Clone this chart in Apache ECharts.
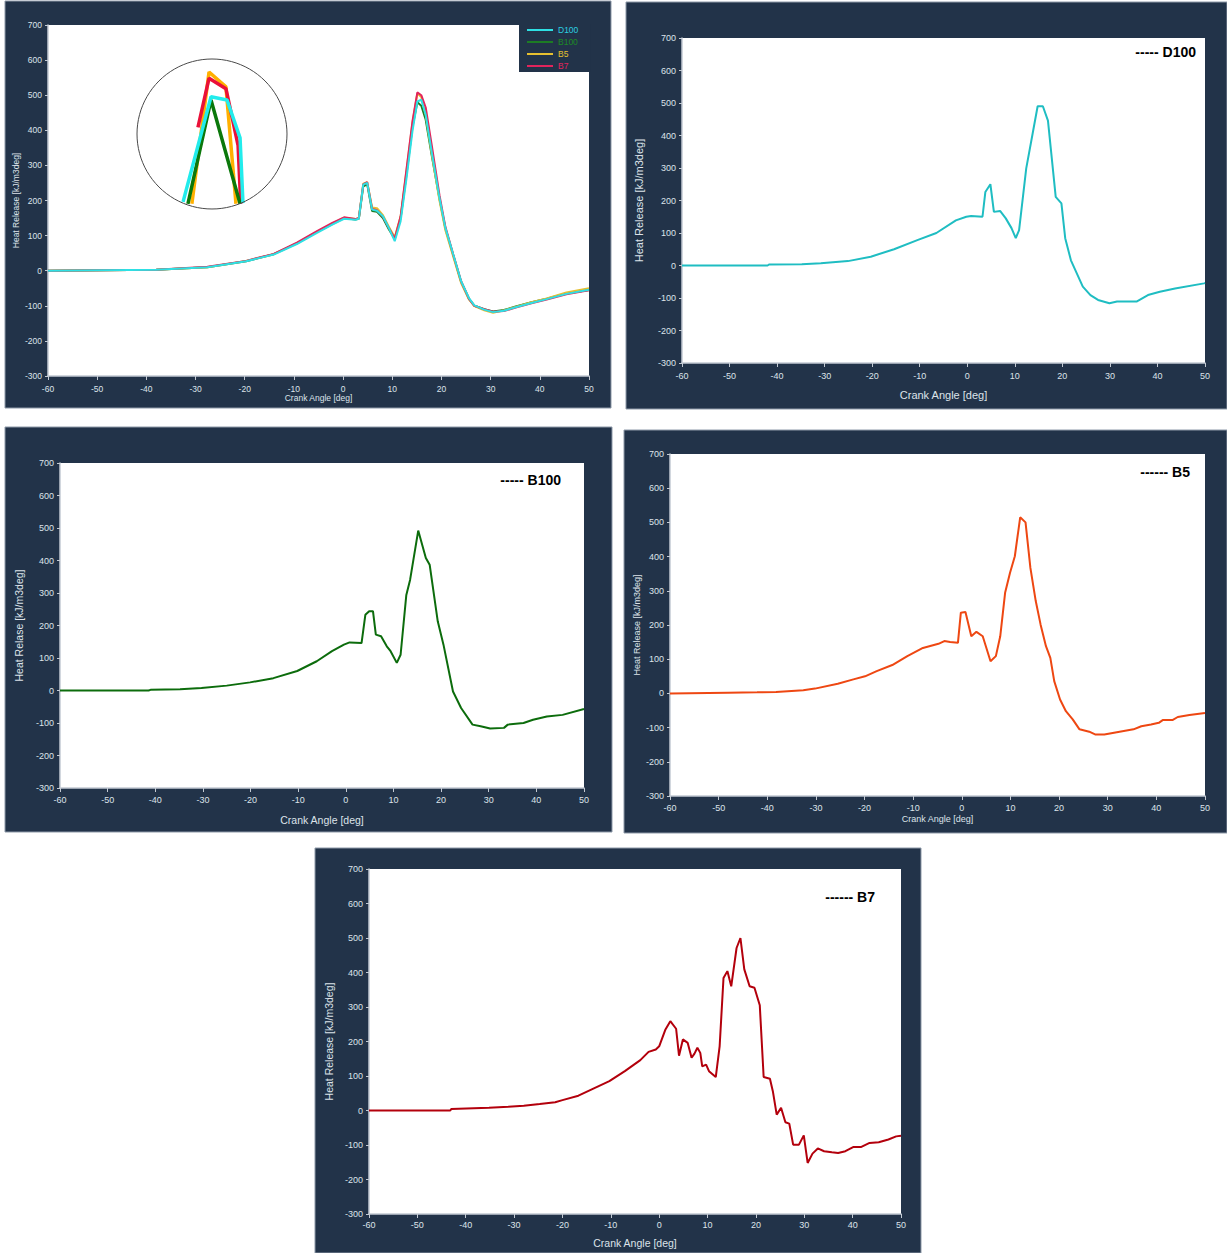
<!DOCTYPE html>
<html>
<head>
<meta charset="utf-8">
<title>Heat Release vs Crank Angle</title>
<script src="https://cdn.jsdelivr.net/npm/echarts@6/dist/echarts.min.js"></script>
<style>
  html, body { margin: 0; padding: 0; background: #ffffff; }
  #chart { width: 1227px; height: 1253px; }
</style>
</head>
<body>
<div id="chart"></div>
<script>
// ---------- Data: heat release rate [kJ/m3deg] vs crank angle [deg] ----------

// Overlay chart (all fuels on a shared angle grid)
const angleAll = [-60,-38,-27.6,-19.7,-14.1,-9.4,-5.4,-2.2,0.2,2.5,3.2,4.1,4.9,5.9,6.9,8.1,9.3,10.5,11.7,12.9,14.1,15.1,15.9,16.8,18,19.6,20.8,22.4,24,25.6,26.7,28.7,30.5,32.7,35.1,38.3,41.4,45.4,50];
const hrAllD100 = [0,3,10,27,46,76,107,131,148,145,148,245,250,174,171,155,122,84,141,264,397,482,487,444,340,207,122,46,-30,-78,-99,-111,-118,-114,-104,-92,-81,-66,-54];
const hrAllB100 = [0,3,10,27,47,78,110,133,150,146,148,240,246,170,168,150,118,90,150,275,410,480,470,430,330,205,120,44,-32,-80,-100,-110,-116,-112,-102,-90,-80,-65,-55];
const hrAllB5   = [0,3,10,28,47,78,110,134,151,147,150,248,252,180,178,158,125,95,155,285,420,505,495,445,335,200,115,40,-35,-82,-101,-113,-120,-113,-103,-90,-79,-62,-50];
const hrAllB7   = [0,3,11,28,48,80,112,136,152,147,150,246,252,176,172,154,122,92,155,290,425,508,500,465,360,215,125,46,-30,-80,-100,-110,-117,-115,-105,-93,-82,-67,-56];

// Magnified view of the main combustion peak (inset)
const zoomAngleD100 = [13.23,15.35,16.56,17.55,17.77];
const zoomHrD100    = [305,474,469,408,303];
const zoomAngleB100 = [13.6,15.35,17.55];
const zoomHrB100    = [302,469,302];
const zoomAngleB5   = [13.9,15.2,16.48,17.24];
const zoomHrB5      = [302,514,490,302];
const zoomAngleB7   = [14.36,15.2,16.48,17.4,17.6];
const zoomHrB7      = [425,504,487,396,302];

// Single-fuel charts
const angleD100 = [-60,-42,-41.7,-34.8,-30.8,-25.1,-20.3,-15.4,-10.5,-6.5,-2.4,-0.2,0.8,3.2,3.8,4.86,5.6,6.9,8.1,9.3,10.2,10.9,12.4,13.75,14.8,15.9,16.97,18.6,19.8,20.6,21.8,24.3,25.9,27.5,29.9,31.5,35.6,38,40.5,43.7,49.8,50];
const hrD100    = [0,0,3,4,7,13.5,27,50,78,100,139,150,152,150,226,250,165,168,145,115,84,109,299,406,490,490,446,211,191,84,16,-65,-91,-106,-116,-111,-111,-91,-81,-71,-55,-54];

const angleB100 = [-60,-41.4,-41,-34.8,-30.3,-25,-20.1,-15.2,-10.2,-6.1,-2.9,-0.4,0.8,3.3,4.1,4.9,5.7,6.3,7.4,8.6,9.4,10.7,11.5,12.7,13.5,15.2,16.8,17.6,19.3,20.5,22.5,24.2,26.6,28.3,30.3,33.2,34,37.3,39.3,42.2,45.5,50];
const hrB100    = [0,0,2,4,8,15,25,38,60,90,121,141,148,146,233,244,244,172,167,136,121,85,110,294,341,492,408,387,213,141,-3,-54,-105,-110,-117,-115,-105,-100,-90,-80,-75,-57];

const angleB5 = [-60,-48.1,-42.1,-38.2,-32.6,-30.2,-25.5,-22.3,-19.9,-17.5,-14.3,-11.2,-8,-4.8,-3.6,-2.4,-0.8,-0.2,0.75,1.95,3,4.3,5.9,7,7.9,8.9,9.9,10.9,12,13.1,14.1,15.2,16.2,17.3,18.2,19,20.2,21.4,22.8,24.2,26.2,27.4,29.3,31.3,33.3,35.3,36.9,38.9,40.5,41.3,43.3,44.4,46.8,50];
const hrB5    = [0,2,3,4,9,14,28,41,50,65,83,109,133,145,153,150,148,236,238,167,180,167,94,109,167,294,352,401,515,500,367,270,201,138,104,36,-18,-52,-76,-105,-112,-120,-120,-115,-110,-105,-96,-91,-86,-78,-78,-69,-63,-57];

const angleB7 = [-60,-43.2,-43,-35.2,-31.2,-28,-24.7,-21.5,-20,-16.7,-13.5,-10.3,-7.1,-3.9,-2.2,-0.7,0,1.3,2.3,3.5,4.1,4.9,5.9,6.7,7.3,7.9,8.5,8.9,9.7,10.3,11.7,12.5,13.3,14.1,14.9,16,16.8,17.6,18.7,19.7,20.8,21.6,22.9,23.5,24.3,25.2,26.1,26.9,27.7,28.9,29.9,30.7,31.7,32.8,34.1,35.7,37,38.5,40.1,41.7,43.5,45.4,47.4,49,50];
const hrB7    = [0,0,4,8,11,14,19,24,30,43,64,85,114,146,170,177,186,235,259,237,159,206,196,153,165,182,167,128,133,114,97,186,384,404,360,471,500,409,360,356,305,97,92,56,-12,8,-34,-38,-99,-99,-72,-152,-125,-110,-118,-121,-123,-118,-106,-106,-94,-92,-84,-75,-73];

// Axis ticks
const angleTicks = { min: -60, max: 50, interval: 10 };
const hrTicks = { min: -300, max: 700, interval: 100 };

// ---------- Layout ----------
const NAVY = '#223349';
const TICK_COLOR = '#dde3ea';
const AXIS_COLOR = '#c3cad3';
const FONT = 'Liberation Sans, Arial, sans-serif';

function zip(xs, ys) { return xs.map((x, i) => [x, ys[i]]); }

// Dark frame and plot area of each chart
const panels = [
  { frame: [5, 1, 606, 407],   grid: { left: 48,  top: 25,  width: 541, height: 351 }, lab: 8.5, title: 8.5, xGap: 17, yGap: 28, xMargin: 8, yTitle: 'Heat Release [kJ/m3deg]' },
  { frame: [626, 2, 601, 407], grid: { left: 682, top: 38,  width: 523, height: 325 }, lab: 9,   title: 11,  xGap: 26, yGap: 38, xMargin: 8, yTitle: 'Heat Release [kJ/m3deg]' },
  { frame: [5, 427, 607, 405], grid: { left: 60,  top: 463, width: 524, height: 325 }, lab: 9,   title: 10.5,xGap: 26, yGap: 36, xMargin: 7, yTitle: 'Heat Relase [kJ/m3deg]' },
  { frame: [624, 430, 603, 403], grid: { left: 670, top: 454, width: 535, height: 342 }, lab: 9, title: 9,   xGap: 18, yGap: 29, xMargin: 7, yTitle: 'Heat Release [kJ/m3deg]' },
  { frame: [315, 848, 606, 405], grid: { left: 369, top: 869, width: 532, height: 345 }, lab: 9, title: 10.5, xGap: 23, yGap: 35, xMargin: 6, yTitle: 'Heat Release [kJ/m3deg]' }
];

const grids = panels.map(p => Object.assign({
  show: true, backgroundColor: '#ffffff', borderWidth: 0, containLabel: false
}, p.grid));
// inset grid inside the magnifier circle
grids.push({ left: 180, top: 62, width: 66, height: 143, show: false });

const xAxes = panels.map((p, i) => ({
  type: 'value', gridIndex: i,
  min: angleTicks.min, max: angleTicks.max, interval: angleTicks.interval,
  name: 'Crank Angle [deg]', nameLocation: 'middle', nameGap: p.xGap,
  nameTextStyle: { color: TICK_COLOR, fontSize: p.title, fontFamily: FONT },
  axisLine: { show: true, onZero: false, lineStyle: { color: AXIS_COLOR, width: 1.5 } },
  axisTick: { show: true, length: 4, lineStyle: { color: AXIS_COLOR } },
  axisLabel: { color: TICK_COLOR, fontSize: p.lab, fontFamily: FONT, margin: p.xMargin, showMinLabel: true, showMaxLabel: true },
  splitLine: { show: false }
}));
xAxes.push({ type: 'value', gridIndex: 5, min: 13, max: 18, show: false });

const yAxes = panels.map((p, i) => ({
  type: 'value', gridIndex: i,
  min: hrTicks.min, max: hrTicks.max, interval: hrTicks.interval,
  name: p.yTitle, nameLocation: 'middle', nameGap: p.yGap,
  nameTextStyle: { color: TICK_COLOR, fontSize: p.title, fontFamily: FONT },
  axisLine: { show: true, onZero: false, lineStyle: { color: AXIS_COLOR, width: 1.5 } },
  axisTick: { show: true, length: 3, lineStyle: { color: AXIS_COLOR } },
  axisLabel: { color: TICK_COLOR, fontSize: p.lab, fontFamily: FONT, margin: 6 },
  splitLine: { show: false }
}));
yAxes.push({ type: 'value', gridIndex: 5, min: 300, max: 530, show: false });

function line(name, data, idx, color, width, z) {
  return {
    name: name, type: 'line', data: data, xAxisIndex: idx, yAxisIndex: idx,
    showSymbol: false, symbol: 'none', silent: true, z: z || 2,
    lineStyle: { color: color, width: width },
    itemStyle: { color: color }
  };
}

const COLORS_ALL = { D100: '#2ee0e4', B100: '#1d7c24', B5: '#e6c030', B7: '#e2245c' };

const series = [
  // overlay chart
  line('B100', zip(angleAll, hrAllB100), 0, COLORS_ALL.B100, 2, 2),
  line('B5',   zip(angleAll, hrAllB5),   0, COLORS_ALL.B5,   2, 3),
  line('B7',   zip(angleAll, hrAllB7),   0, COLORS_ALL.B7,   2, 4),
  line('D100', zip(angleAll, hrAllD100), 0, COLORS_ALL.D100, 2, 5),
  // single-fuel charts
  line('D100 only', zip(angleD100, hrD100), 1, '#1fbdc2', 2),
  line('B100 only', zip(angleB100, hrB100), 2, '#0c6c0c', 2),
  line('B5 only',   zip(angleB5, hrB5),     3, '#ee4712', 2),
  line('B7 only',   zip(angleB7, hrB7),     4, '#b3000c', 2),
  // magnified peak
  line('B5 peak',   zip(zoomAngleB5, zoomHrB5),     5, '#ffb000', 3.5, 6),
  line('B7 peak',   zip(zoomAngleB7, zoomHrB7),     5, '#ea1038', 3.5, 7),
  line('B100 peak', zip(zoomAngleB100, zoomHrB100), 5, '#0b780b', 3.5, 8),
  line('D100 peak', zip(zoomAngleD100, zoomHrD100), 5, '#22ecec', 3.5, 9)
];

// Frames, magnifier ring and per-chart labels
const graphic = [];
panels.forEach(p => {
  graphic.push({
    type: 'rect', z: -10, silent: true,
    shape: { x: p.frame[0], y: p.frame[1], width: p.frame[2], height: p.frame[3] },
    style: { fill: NAVY, stroke: '#8d99a8', lineWidth: 1 }
  });
});
graphic.push({
  type: 'circle', z: 100, silent: true,
  shape: { cx: 212, cy: 134, r: 75 },
  style: { fill: 'none', stroke: '#4a4a4a', lineWidth: 1 }
});
const tagStyle = { fill: '#000000', font: 'bold 14px ' + FONT };
[
  { text: '----- D100', x: 1196, y: 52 },
  { text: '----- B100', x: 561, y: 480 },
  { text: '------ B5', x: 1190, y: 472 },
  { text: '------ B7', x: 875, y: 897 }
].forEach(t => {
  graphic.push({
    type: 'text', z: 100, silent: true, x: t.x, y: t.y,
    style: Object.assign({ text: t.text, textAlign: 'right', textVerticalAlign: 'middle' }, tagStyle)
  });
});

const option = {
  animation: false,
  backgroundColor: '#ffffff',
  grid: grids,
  xAxis: xAxes,
  yAxis: yAxes,
  legend: {
    show: true, selectedMode: false,
    orient: 'vertical', left: 519, top: 24,
    backgroundColor: NAVY, padding: [1, 12, 1, 8],
    icon: 'rect', itemWidth: 26, itemHeight: 2, itemGap: 2, itemTextGap: 8,
    textStyle: { fontSize: 8.5, lineHeight: 10, fontFamily: FONT },
    data: [
      { name: 'D100', textStyle: { color: '#2ccfe0' } },
      { name: 'B100', textStyle: { color: '#1d8a24' } },
      { name: 'B5',   textStyle: { color: '#e6c030' } },
      { name: 'B7',   textStyle: { color: '#e2245c' } }
    ]
  },
  graphic: graphic,
  series: series
};

const chart = echarts.init(document.getElementById('chart'), null, { renderer: 'svg', width: 1227, height: 1253 });
chart.setOption(option);
</script>
</body>
</html>
